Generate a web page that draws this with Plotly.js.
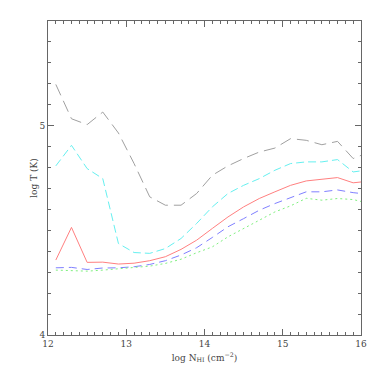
<!DOCTYPE html>
<html>
<head>
<meta charset="utf-8">
<script src="https://cdn.plot.ly/plotly-3.0.1.min.js"></script>
<style>
  html, body { margin: 0; padding: 0; background: #fff; }
  #chart { width: 382px; height: 382px; }
</style>
</head>
<body>
<div id="chart"></div>
<script>
// log N_HI grid
const logN = [12.1, 12.3, 12.5, 12.7, 12.9, 13.1, 13.3, 13.5, 13.7, 13.9, 14.1,
              14.3, 14.5, 14.7, 14.9, 15.1, 15.3, 15.5, 15.7, 15.9, 16.0];

// log T curves
const tGray  = [5.197, 5.033, 5.005, 5.065, 4.965, 4.819, 4.660, 4.620, 4.620, 4.676, 4.763,
                4.808, 4.843, 4.874, 4.893, 4.938, 4.930, 4.909, 4.925, 4.843, 4.858];
const tCyan  = [4.808, 4.906, 4.795, 4.747, 4.437, 4.394, 4.390, 4.413, 4.461, 4.533, 4.612,
                4.676, 4.715, 4.747, 4.787, 4.819, 4.827, 4.827, 4.838, 4.779, 4.784];
const tRed   = [4.358, 4.514, 4.347, 4.348, 4.339, 4.343, 4.355, 4.374, 4.409, 4.453, 4.509,
                4.564, 4.612, 4.652, 4.684, 4.715, 4.736, 4.744, 4.752, 4.727, 4.731];
const tBlue  = [4.321, 4.323, 4.313, 4.320, 4.321, 4.326, 4.337, 4.355, 4.382, 4.417, 4.466,
                4.517, 4.556, 4.596, 4.628, 4.657, 4.684, 4.684, 4.693, 4.680, 4.676];
const tGreen = [4.310, 4.307, 4.305, 4.310, 4.316, 4.321, 4.329, 4.342, 4.362, 4.393, 4.421,
                4.469, 4.509, 4.551, 4.588, 4.617, 4.653, 4.644, 4.652, 4.647, 4.638];

const xTicks = [12, 13, 14, 15, 16];
const yTicks = [4, 5];

function curve(y, color, dash) {
    return {
        x: logN, y: y, mode: "lines", type: "scatter",
        line: { color: color, width: 1, dash: dash },
        hoverinfo: "skip"
    };
}

const traces = [
    curve(tGray, "#a0a0a0", "12px,6px"),
    curve(tCyan, "#66f0f0", "8px,4px"),
    curve(tRed, "#ff8080", "solid"),
    curve(tBlue, "#8080ff", "8px,5px"),
    curve(tGreen, "#80f080", "2px,3px")
];

const axisFont = { family: "DejaVu Serif, serif", size: 9, color: "#444" };

const layout = {
    width: 382, height: 382,
    margin: { l: 47.5, r: 21, t: 21, b: 47 },
    paper_bgcolor: "#fff", plot_bgcolor: "#fff",
    showlegend: false,
    font: axisFont,
    xaxis: {
        range: [12, 16], tickvals: xTicks, ticktext: xTicks.map(String),
        ticks: "inside", ticklen: 6, tickcolor: "#666", tickwidth: 1,
        minor: { dtick: 0.1, ticks: "inside", ticklen: 3, tickcolor: "#666" },
        showline: true, linecolor: "#666", linewidth: 1, mirror: "ticks",
        showgrid: false, zeroline: false,
        tickfont: axisFont,
        title: { text: "log N<sub>HI</sub> (cm<sup>−2</sup>)", font: axisFont, standoff: 6 }
    },
    yaxis: {
        range: [4, 5.5], tickvals: yTicks, ticktext: yTicks.map(String),
        ticks: "inside", ticklen: 6, tickcolor: "#666", tickwidth: 1,
        minor: { dtick: 0.1, ticks: "inside", ticklen: 3, tickcolor: "#666" },
        showline: true, linecolor: "#666", linewidth: 1, mirror: "ticks",
        showgrid: false, zeroline: false,
        tickfont: axisFont,
        title: { text: "log T (K)", font: axisFont, standoff: 0 }
    }
};

Plotly.newPlot("chart", traces, layout, { staticPlot: true, displayModeBar: false });
</script>
</body>
</html>
